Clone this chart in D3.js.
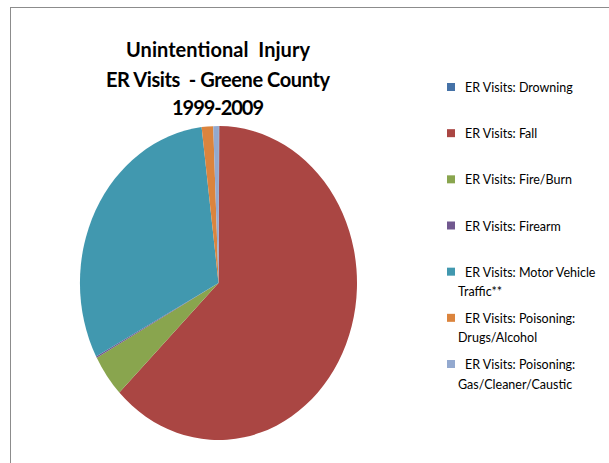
<!DOCTYPE html>
<html>
<head>
<meta charset="utf-8">
<script src="https://cdn.jsdelivr.net/npm/d3@7"></script>
<style>
  html, body { margin: 0; padding: 0; background: #fff; }
  svg { display: block; }
</style>
</head>
<body>
<svg id="chart" width="609" height="463"></svg>
<script>
const titleLines = ["Unintentional  Injury", "ER Visits  - Greene County", "1999-2009"];
const categories = [
  "ER Visits: Drowning",
  "ER Visits: Fall",
  "ER Visits: Fire/Burn",
  "ER Visits: Firearm",
  "ER Visits: Motor Vehicle Traffic**",
  "ER Visits: Poisoning: Drugs/Alcohol",
  "ER Visits: Poisoning: Gas/Cleaner/Caustic"
];
const legendLines = [
  ["ER Visits: Drowning"],
  ["ER Visits: Fall"],
  ["ER Visits: Fire/Burn"],
  ["ER Visits: Firearm"],
  ["ER Visits: Motor Vehicle", "Traffic**"],
  ["ER Visits: Poisoning:", "Drugs/Alcohol"],
  ["ER Visits: Poisoning:", "Gas/Cleaner/Caustic"]
];
const values = [10, 6280, 440, 15, 3090, 135, 60];
const colors = ["#4572A7", "#AA4643", "#89A54E", "#71588F", "#4198AF", "#DB843D", "#93A9CF"];

const svg = d3.select("#chart");
const font = "Lato, 'Open Sans', sans-serif";

// chart frame
svg.append("rect")
  .attr("x", 10.5).attr("y", 7.5)
  .attr("width", 640).attr("height", 500)
  .attr("fill", "none").attr("stroke", "#8c8c8c").attr("stroke-width", 1);

// title
const title = svg.append("text")
  .attr("text-anchor", "middle")
  .attr("font-family", font)
  .attr("font-weight", "bold")
  .attr("font-size", 20)
  .attr("fill", "#000");
const titleY = [57, 87, 115];
const titleW = [184, 224, 92];
titleLines.forEach((t, i) => {
  title.append("tspan").attr("x", 218).attr("y", titleY[i])
    .attr("xml:space", "preserve")
    .attr("textLength", titleW[i]).attr("lengthAdjust", "spacing")
    .text(t);
});

// pie (elliptical, as in reference)
const color = d3.scaleOrdinal().domain(categories).range(colors);
const pie = d3.pie().sort(null).value(d => d.value);
const data = categories.map((c, i) => ({ name: c, value: values[i] }));
const arc = d3.arc().innerRadius(0).outerRadius(1);
const cx = 218.5, cy = 283, rx = 138.5, ry = 157;
const g = svg.append("g").attr("transform", `translate(${cx},${cy}) scale(${rx},${ry})`);
g.selectAll("path")
  .data(pie(data))
  .join("path")
  .attr("d", arc)
  .attr("fill", d => color(d.data.name));

// legend
const legY = d3.scalePoint().domain(categories).range([87, 364]);
const leg = svg.append("g");
categories.forEach((c, i) => {
  const y = legY(c);
  leg.append("rect")
    .attr("x", 447).attr("y", y - 4)
    .attr("width", 8).attr("height", 8)
    .attr("fill", color(c));
  const t = leg.append("text")
    .attr("font-family", font)
    .attr("font-size", 12.5)
    .attr("fill", "#000");
  legendLines[i].forEach((line, j) => {
    t.append("tspan")
      .attr("x", j === 0 ? 465 : 458)
      .attr("y", y + 5 + j * 19.5)
      .text(line);
  });
});
</script>
</body>
</html>
